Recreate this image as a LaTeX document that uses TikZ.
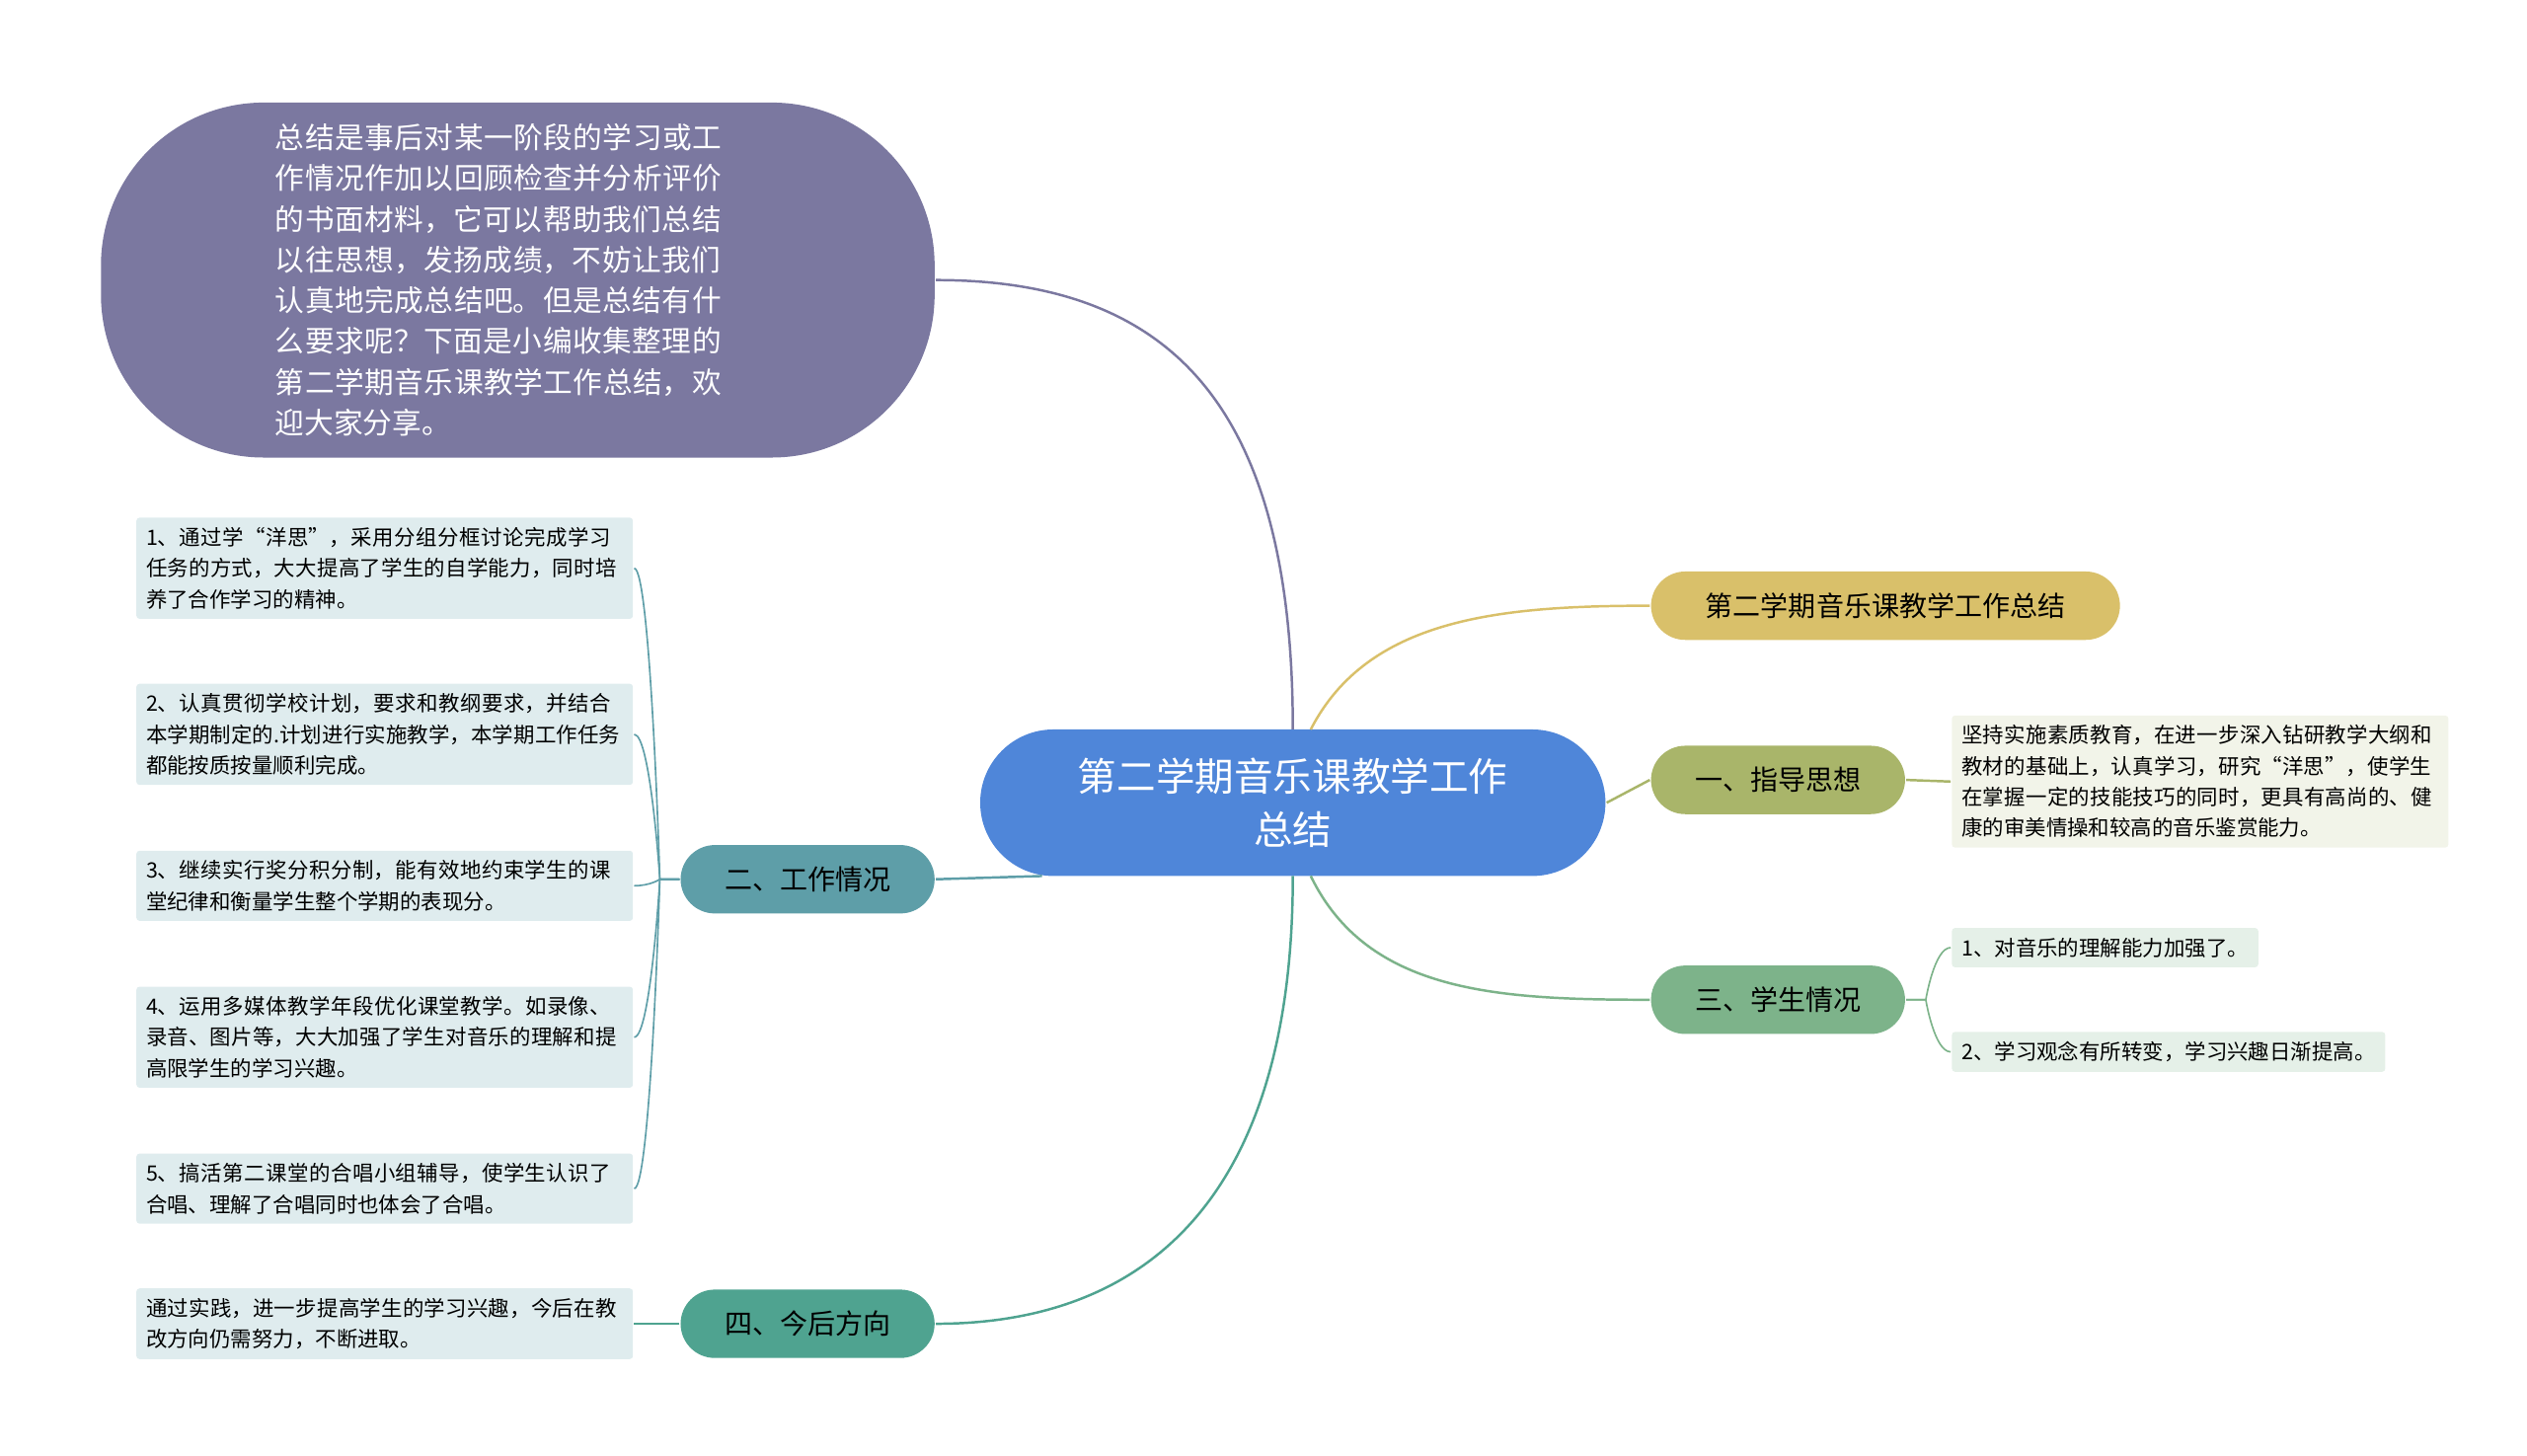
\documentclass[tikz,border=0pt]{standalone}
\usepackage{fontspec}
\setmainfont{Noto Sans CJK SC}
\XeTeXlinebreaklocale "zh"
\XeTeXlinebreakskip=0pt plus 1pt
\usetikzlibrary{positioning}
\definecolor{cblue}{HTML}{4F86D9}
\definecolor{cpurple}{HTML}{7B78A0}
\definecolor{cgold}{HTML}{D9C06A}
\definecolor{colive}{HTML}{A9B56A}
\definecolor{cgreen}{HTML}{7DB38A}
\definecolor{cteal}{HTML}{5E9EA8}
\definecolor{csea}{HTML}{4FA390}
\begin{document}
\begin{tikzpicture}[x=1pt,y=-1pt,
  topic/.style={rounded corners=21pt, minimum height=42pt, align=center, font=\fontsize{17}{20}\selectfont},
  leaf/.style={fill=#1, rounded corners=2pt, align=left, inner sep=6pt, font=\fontsize{13}{19}\selectfont},
  every path/.style={line width=1.5pt}]
\useasboundingbox (0,0) rectangle (1552,894);

\node[fill=cblue, rounded corners=45pt, minimum width=384pt, minimum height=90pt, text=white, align=center,
  font=\fontsize{24}{33}\selectfont] (root) at (794,493) {第二学期音乐课教学工作\\总结};
\node[fill=cpurple, rounded corners=100pt, minimum width=512pt, minimum height=218pt, text=white] (intro) at (318,172) {};
\node[text=white, text width=285pt, align=left, font=\fontsize{18}{25}\selectfont, anchor=west] at (165,172)
  {总结是事后对某一阶段的学习或工作情况作加以回顾检查并分析评价的书面材料，它可以帮助我们总结以往思想，发扬成绩，不妨让我们认真地完成总结吧。但是总结有什么要求呢？下面是小编收集整理的第二学期音乐课教学工作总结，欢迎大家分享。};

\node[topic, fill=cgold, minimum width=288pt] (title) at (1158,372) {第二学期音乐课教学工作总结};
\node[topic, fill=colive, minimum width=156pt] (guide) at (1092,479) {一、指导思想};
\node[topic, fill=cgreen, minimum width=156pt] (stu) at (1092,614) {三、学生情况};
\node[topic, fill=cteal, minimum width=156pt] (work) at (496,540) {二、工作情况};
\node[topic, fill=csea, minimum width=156pt] (future) at (496,813) {四、今后方向};

\node[leaf=colive!15, text width=293pt, anchor=west] (g1) at (1198,480) {坚持实施素质教育，在进一步深入钻研教学大纲和教材的基础上，认真学习，研究“洋思”，使学生在掌握一定的技能技巧的同时，更具有高尚的、健康的审美情操和较高的音乐鉴赏能力。};
\node[leaf=cgreen!20, anchor=west] (s1) at (1198,582) {1、对音乐的理解能力加强了。};
\node[leaf=cgreen!20, anchor=west] (s2) at (1198,646) {2、学习观念有所转变，学习兴趣日渐提高。};

\node[leaf=cteal!20, text width=293pt, anchor=west] (w1) at (83,349) {1、通过学“洋思”，采用分组分框讨论完成学习任务的方式，大大提高了学生的自学能力，同时培养了合作学习的精神。};
\node[leaf=cteal!20, text width=293pt, anchor=west] (w2) at (83,451) {2、认真贯彻学校计划，要求和教纲要求，并结合本学期制定的.计划进行实施教学，本学期工作任务都能按质按量顺利完成。};
\node[leaf=cteal!20, text width=293pt, anchor=west] (w3) at (83,544) {3、继续实行奖分积分制，能有效地约束学生的课堂纪律和衡量学生整个学期的表现分。};
\node[leaf=cteal!20, text width=293pt, anchor=west] (w4) at (83,637) {4、运用多媒体教学年段优化课堂教学。如录像、录音、图片等，大大加强了学生对音乐的理解和提高限学生的学习兴趣。};
\node[leaf=cteal!20, text width=293pt, anchor=west] (w5) at (83,730) {5、搞活第二课堂的合唱小组辅导，使学生认识了合唱、理解了合唱同时也体会了合唱。};
\node[leaf=cteal!20, text width=293pt, anchor=west] (f1) at (83,813) {通过实践，进一步提高学生的学习兴趣，今后在教改方向仍需努力，不断进取。};

% main branches
\draw[cpurple] (794,448) .. controls (794,250) and (720,172) .. (intro.east);
\draw[cgold] (805,448) .. controls (840,380) and (920,372) .. (title.west);
\draw[colive] (root.east) -- (guide.west);
\draw[cgreen] (805,538) .. controls (840,610) and (920,614) .. (stu.west);
\draw[cteal] (work.east) -- (640,538);
\draw[csea] (794,538) .. controls (794,740) and (700,813) .. (future.east);

% sub branches
\draw[colive] (guide.east) -- (g1.west);
\foreach \n in {s1,s2}
  \draw[cgreen, line width=1pt] (stu.east) -- ++(12,0) .. controls ++(0,0) and ++(-10,0) .. (\n.west);
\foreach \n in {w1,w2,w3,w4,w5}
  \draw[cteal, line width=1pt] (work.west) -- ++(-12,0) .. controls ++(0,0) and ++(10,0) .. (\n.east);
\draw[csea, line width=1pt] (future.west) -- (f1.east);
\end{tikzpicture}
\end{document}
